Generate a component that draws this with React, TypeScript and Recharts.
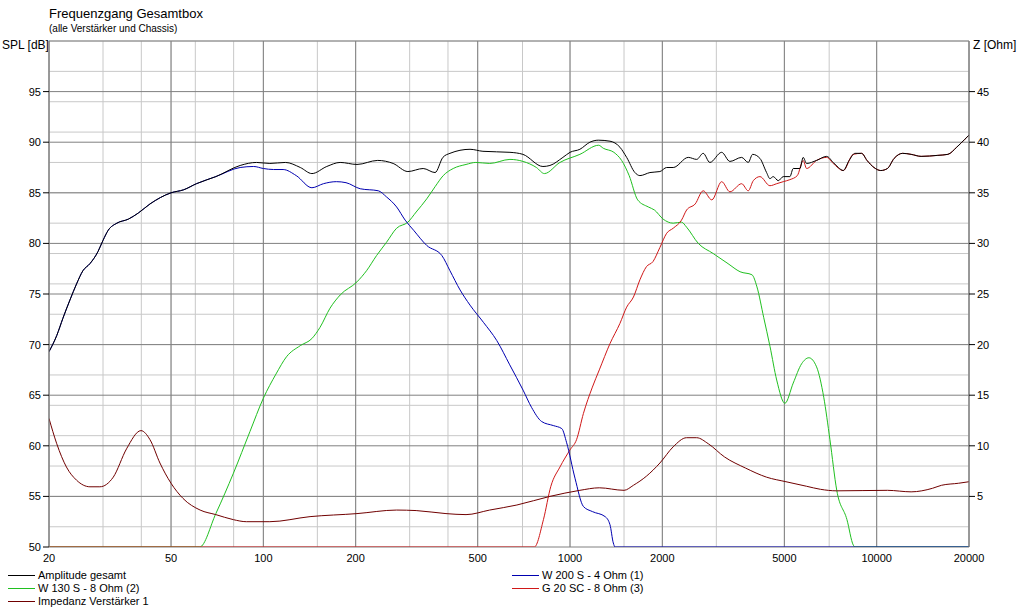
import React from 'react';
import { LineChart, Line, XAxis, YAxis, CartesianGrid } from 'recharts';

// Frequenzgang Gesamtbox - SPL (left, dB) and impedance (right, Ohm) over log frequency

const xTicks = [20, 50, 100, 200, 500, 1000, 2000, 5000, 10000, 20000];
const gridFreqs = [
  20, 30, 40, 50, 60, 70, 80, 90, 100, 150, 200, 300, 400, 500, 600, 700, 800, 900,
  1000, 1500, 2000, 3000, 4000, 5000, 6000, 7000, 8000, 9000, 10000, 15000, 20000,
];
const splTicks = [50, 55, 60, 65, 70, 75, 80, 85, 90, 95];
const zTicks = [5, 10, 15, 20, 25, 30, 35, 40, 45];
const splMinor = Array.from({ length: 51 }, (_, i) => 50 + i);
const splMajor = [50, 55, 60, 65, 70, 75, 80, 85, 90, 95, 100];

// Amplitude gesamt
const ampFreq = [
  20, 21.2, 22.2, 23.4, 24.6, 25.8, 27.2, 28.9, 30, 31.2, 33.3, 36.3, 39.1, 42.7, 50, 55, 60.5, 70,
  84, 95, 105, 118, 132, 144, 161, 178, 202, 236, 265, 296, 332, 363, 385, 406, 472, 520, 637, 702,
  816, 860, 948, 1000, 1077, 1161, 1236, 1350, 1455, 1530, 1628, 1690, 1822, 1964, 2066, 2170, 2430,
  2588, 2718, 2858, 3122, 3322, 3628, 3812, 3940, 4162, 4375, 4486, 4598, 4775, 4960, 5212, 5344,
  5618, 5760, 5908, 6368, 6868, 7216, 7500, 7780, 8130, 8500, 8930, 9300, 9800, 10310, 10840, 11400,
  12150, 12950, 13960, 15830, 17070, 18230, 19400, 20000,
];
const ampDb = [
  69.3, 70.9, 72.6, 74.4, 76.0, 77.3, 78.0, 79.2, 80.3, 81.3, 82.0, 82.4, 83.0, 83.9, 85.0, 85.3, 85.9, 86.6,
  87.7, 88.0, 87.9, 88.0, 87.5, 86.9, 87.6, 88.0, 87.8, 88.2, 87.9, 87.1, 87.4, 87.0, 88.5, 88.9, 89.3, 89.1, 89.0, 88.8,
  87.6, 87.7, 88.5, 89.0, 89.3, 90.0, 90.2, 90.1, 89.5, 88.5, 87.0, 86.7, 87.0, 87.1, 87.5, 87.5, 88.5,
  88.3, 88.9, 88.0, 89.0, 88.1, 88.5, 88.0, 88.8, 88.4, 87.0, 86.4, 86.6, 86.2, 86.6, 86.6, 87.4,
  87.4, 88.5, 87.9, 88.2, 88.6, 88.0, 87.5, 87.2, 88.2, 88.9, 88.9, 88.2, 87.5, 87.2, 87.4, 88.4,
  88.9, 88.8, 88.6, 88.7, 88.8, 89.5, 90.3, 90.7,
];

// W 200 S - 4 Ohm (1)
const wooferFreq = [
  20, 21.2, 22.2, 23.4, 24.6, 25.8, 27.2, 28.9, 30, 31.2, 33.3, 36.3, 39.1, 42.7, 50, 55, 60.5, 70,
  84, 93, 100, 108, 116, 128, 144, 157, 173, 186, 207, 237, 252, 272, 290, 309, 341, 382, 406, 438,
  472, 522, 577, 636, 703, 749, 808, 882, 940, 975, 1038, 1106, 1183, 1302, 1350, 1384, 1403, 20000,
];
const wooferDb = [
  69.3, 70.9, 72.6, 74.4, 76.0, 77.3, 78.0, 79.2, 80.3, 81.3, 82.0, 82.4, 83.0, 83.9, 85.0, 85.3, 85.9, 86.6,
  87.5, 87.6, 87.4, 87.3, 87.3, 86.7, 85.5, 85.9, 86.1, 86.0, 85.4, 85.2, 84.6, 83.6, 82.3, 81.3, 79.8, 78.8, 77.3, 75.4,
  73.9, 72.2, 70.4, 68.0, 65.5, 63.8, 62.4, 62.0, 61.7, 60.3, 56.8, 54.0, 53.5, 53.0, 52.2, 50.4, 50.0, 50.0,
];

// W 130 S - 8 Ohm (2)
const midFreq = [
  20, 62, 70, 79.9, 90.4, 100, 110, 119, 132, 144, 153, 165, 178, 202, 217, 234, 252, 272, 296, 315,
  341, 363, 386, 416, 458, 493, 547, 637, 703, 777, 825, 927, 1077, 1240, 1284, 1390, 1473, 1559,
  1662, 1800, 1885, 2012, 2170, 2310, 2400, 2620, 2930, 3275, 3585, 3920, 4070, 4280, 4490, 4720,
  5020, 5344, 5690, 6010, 6368, 6720, 7040, 7410, 8000, 8386, 8500, 20000,
];
const midDb = [
  50, 50, 53.3, 57.3, 61.4, 64.7, 67.1, 68.8, 69.9, 70.6, 71.7, 73.6, 74.9, 76.2, 77.3, 78.8, 80.1, 81.5, 82.1, 83.1,
  84.4, 85.6, 86.7, 87.4, 87.8, 88.0, 87.9, 88.3, 88.1, 87.5, 86.9, 88.0, 88.8, 89.7, 89.4, 89.0, 88.2, 86.7,
  84.3, 83.6, 83.3, 82.4, 82.0, 82.1, 81.6, 80.0, 79.0, 78.0, 77.2, 76.9, 75.7, 72.7, 69.8, 66.5,
  64.2, 66.2, 68.1, 68.7, 67.8, 64.8, 60.6, 55.6, 52.7, 50.2, 50, 50,
];

// G 20 SC - 8 Ohm (3)
const tweeterFreq = [
  20, 765, 819, 866, 927, 1000, 1050, 1106, 1183, 1246, 1350, 1455, 1530, 1610, 1690, 1775, 1864,
  1964, 2066, 2170, 2310, 2400, 2560, 2718, 2900, 3122, 3322, 3628, 3812, 3960, 4162, 4486, 4720,
  4960, 5212, 5510, 5760, 5908, 6368, 6868, 7216, 7778, 8386, 8930, 9300, 9800, 10310, 10840, 11400,
  12150, 12950, 13960, 15830, 17070, 18230, 19400, 20000,
];
const tweeterDb = [
  50, 50, 52.7, 56.0, 57.9, 59.6, 60.6, 63.2, 65.8, 67.5, 70.1, 72.1, 73.7, 74.7, 76.4, 77.7, 78.2,
  79.6, 81.0, 81.5, 82.3, 83.3, 83.9, 85.2, 84.3, 86.1, 85.1, 85.9, 85.2, 86.2, 86.6, 85.7, 85.9,
  86.1, 86.3, 86.7, 88.2, 87.4, 88.2, 88.5, 87.9, 87.2, 88.8, 88.9, 88.2, 87.5, 87.2, 87.4, 88.4,
  88.9, 88.8, 88.6, 88.7, 88.8, 89.5, 90.3, 90.7,
];

// Impedanz Verstärker 1
const impFreq = [
  20, 21.2, 22.8, 24.6, 27.2, 29.3, 32.4, 35.8, 39.9, 42.7, 46, 50, 54.7, 62.2, 70, 79.9, 88, 105,
  142, 202, 272, 315, 394, 458, 547, 671, 860, 1077, 1246, 1500, 1610, 1775, 1964, 2170, 2400, 2588,
  2825, 3190, 3735, 4375, 5060, 5908, 6560, 7410, 10840, 12950, 15200, 16280, 18500, 20000,
];
const impOhm = [
  12.7, 10.2, 7.9, 6.6, 5.95, 5.95, 6.9, 9.7, 11.5, 10.6, 8.3, 6.3, 4.8, 3.65, 3.2, 2.7, 2.5, 2.5,
  3.0, 3.3, 3.65, 3.6, 3.3, 3.2, 3.65, 4.15, 5.0, 5.6, 5.85, 5.6, 6.1, 7.0, 8.3, 9.9, 10.8, 10.8,
  10.2, 8.9, 7.8, 6.9, 6.45, 6.0, 5.7, 5.55, 5.6, 5.45, 5.8, 6.1, 6.3, 6.45,
];

const zip = (fs: number[], vs: number[]) => fs.map((f, i) => ({ f, v: vs[i] }));

const FONT = '"Liberation Sans", Arial, sans-serif';

const COLORS = {
  amp: '#000000',
  woofer: '#0000b0',
  mid: '#20c020',
  tweeter: '#d01818',
  imp: '#700000',
};

const legendLeft = [
  { name: 'Amplitude gesamt', color: COLORS.amp },
  { name: 'W 130 S - 8 Ohm (2)', color: COLORS.mid },
  { name: 'Impedanz Verstärker 1', color: COLORS.imp },
];
const legendRight = [
  { name: 'W 200 S - 4 Ohm (1)', color: COLORS.woofer },
  { name: 'G 20 SC - 8 Ohm (3)', color: COLORS.tweeter },
];

const LegendColumn = ({ items, left }: { items: { name: string; color: string }[]; left: number }) => (
  <div style={{ position: 'absolute', left, top: 569 }}>
    {items.map((it) => (
      <div key={it.name} style={{ display: 'flex', alignItems: 'center', height: 13 }}>
        <div style={{ width: 27, height: 1, background: it.color, marginRight: 3 }} />
        <span style={{ fontSize: 11, lineHeight: '13px', color: '#000' }}>{it.name}</span>
      </div>
    ))}
  </div>
);

const tickStyle = { fontSize: 11, fill: '#000', fontFamily: FONT };

export default function App() {
  return (
    <div
      style={{
        position: 'absolute',
        left: 0,
        top: 0,
        width: 1018,
        height: 610,
        background: '#fff',
        fontFamily: FONT,
      }}
    >
      <div style={{ position: 'absolute', left: 49, top: 6, fontSize: 13 }}>Frequenzgang Gesamtbox</div>
      <div style={{ position: 'absolute', left: 49, top: 23, fontSize: 10 }}>(alle Verstärker und Chassis)</div>
      <div style={{ position: 'absolute', left: 2, top: 38, fontSize: 12 }}>SPL [dB]</div>
      <div style={{ position: 'absolute', left: 973, top: 38, fontSize: 12 }}>Z [Ohm]</div>

      <LineChart width={1018} height={610} margin={{ top: 41, right: 0, bottom: 43, left: 0 }}>
        <CartesianGrid
          yAxisId="left"
          stroke="#c8c8c8"
          horizontalValues={splMinor}
          verticalValues={gridFreqs}
        />
        <CartesianGrid
          yAxisId="left"
          stroke="#808080"
          horizontalValues={splMajor}
          verticalValues={xTicks}
        />
        <XAxis
          dataKey="f"
          type="number"
          scale="log"
          domain={[20, 20000]}
          ticks={xTicks}
          allowDataOverflow
          axisLine={false}
          tickLine={false}
          tick={tickStyle}
          tickMargin={1}
          height={20}
        />
        <YAxis
          yAxisId="left"
          domain={[50, 100]}
          ticks={splTicks}
          width={49}
          axisLine={{ stroke: '#808080' }}
          tickLine={{ stroke: '#000' }}
          tickSize={6}
          tick={tickStyle}
          allowDataOverflow
        />
        <YAxis
          yAxisId="right"
          orientation="right"
          domain={[0, 50]}
          ticks={zTicks}
          width={49}
          axisLine={{ stroke: '#808080' }}
          tickLine={{ stroke: '#000' }}
          tickSize={6}
          tick={tickStyle}
          allowDataOverflow
        />
        <Line yAxisId="left" data={zip(midFreq, midDb)} dataKey="v" type="monotone" stroke={COLORS.mid} strokeWidth={1} dot={false} isAnimationActive={false} />
        <Line yAxisId="left" data={zip(tweeterFreq, tweeterDb)} dataKey="v" type="monotone" stroke={COLORS.tweeter} strokeWidth={1} dot={false} isAnimationActive={false} />
        <Line yAxisId="left" data={zip(wooferFreq, wooferDb)} dataKey="v" type="monotone" stroke={COLORS.woofer} strokeWidth={1} dot={false} isAnimationActive={false} />
        <Line yAxisId="right" data={zip(impFreq, impOhm)} dataKey="v" type="monotone" stroke={COLORS.imp} strokeWidth={1} dot={false} isAnimationActive={false} />
        <Line yAxisId="left" data={zip(ampFreq, ampDb)} dataKey="v" type="monotone" stroke={COLORS.amp} strokeWidth={1} dot={false} isAnimationActive={false} />
      </LineChart>

      <LegendColumn items={legendLeft} left={8} />
      <LegendColumn items={legendRight} left={512} />
    </div>
  );
}
